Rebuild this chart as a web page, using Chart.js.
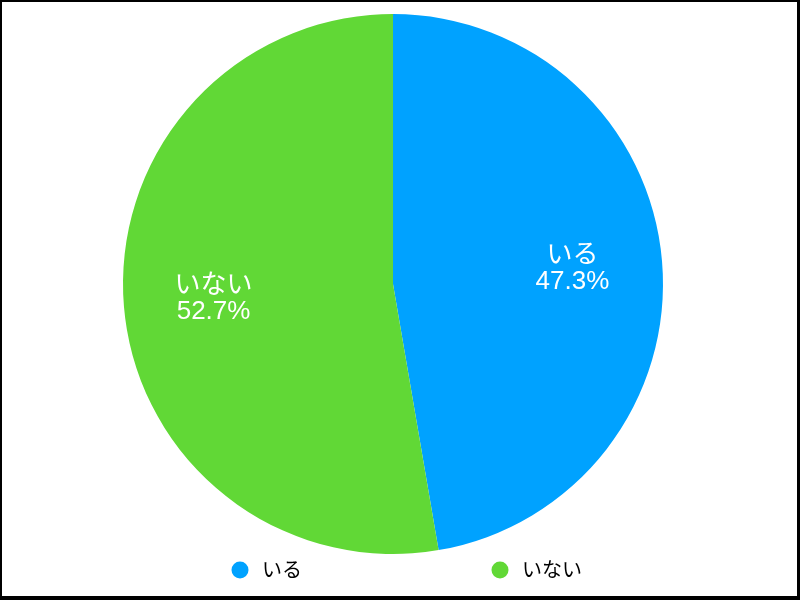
<!DOCTYPE html>
<html>
<head>
<meta charset="utf-8">
<script src="https://cdn.jsdelivr.net/npm/chart.js@4"></script>
<style>
  html, body { margin: 0; padding: 0; background: #fff; }
  #wrap { position: relative; width: 800px; height: 600px; }
  #frame { position: absolute; left: 0; top: 0; width: 800px; height: 600px; box-sizing: border-box;
           border-style: solid; border-color: #000; border-width: 2px 3px 4px 2px; pointer-events: none; }
  canvas { display: block; }
</style>
</head>
<body>
<div id="wrap">
  <canvas id="c" width="800" height="600"></canvas>
  <div id="frame"></div>
</div>
<script>
const categories = ["いる", "いない"];
const values = [47.3, 52.7];
const sliceColors = ["#00A2FF", "#61D836"];

const FONT = '"Liberation Sans", "Helvetica", "Noto Sans CJK JP", sans-serif';

const sliceLabels = {
  id: 'sliceLabels',
  afterDatasetsDraw(chart) {
    const ctx = chart.ctx;
    const meta = chart.getDatasetMeta(0);
    const data = chart.data.datasets[0].data;
    const total = data.reduce((a, b) => a + b, 0);
    ctx.save();
    ctx.fillStyle = '#fff';
    ctx.textAlign = 'center';
    ctx.textBaseline = 'middle';
    ctx.font = '26px ' + FONT;
    meta.data.forEach((arc, i) => {
      const p = arc.getProps(['x', 'y', 'startAngle', 'endAngle', 'outerRadius'], true);
      const mid = (p.startAngle + p.endAngle) / 2;
      const r = p.outerRadius * 0.667;
      const cx = p.x + Math.cos(mid) * r;
      const cy = p.y + Math.sin(mid) * r;
      const pct = (data[i] / total * 100).toFixed(1) + '%';
      ctx.fillText(chart.data.labels[i], cx, cy - 13);
      ctx.fillText(pct, cx, cy + 13);
    });
    ctx.restore();
  }
};

const bottomLegend = {
  id: 'bottomLegend',
  afterDraw(chart) {
    const ctx = chart.ctx;
    const ds = chart.data.datasets[0];
    const xs = [240, 500];
    const y = 570;
    ctx.save();
    ctx.textBaseline = 'middle';
    ctx.textAlign = 'left';
    ctx.font = '20px ' + FONT;
    chart.data.labels.forEach((lab, i) => {
      ctx.fillStyle = ds.backgroundColor[i];
      ctx.beginPath();
      ctx.arc(xs[i], y, 8.5, 0, Math.PI * 2);
      ctx.fill();
      ctx.fillStyle = '#000';
      ctx.fillText(lab, xs[i] + 22, y + 1);
    });
    ctx.restore();
  }
};

new Chart(document.getElementById('c'), {
  type: 'pie',
  data: {
    labels: categories,
    datasets: [{
      data: values,
      backgroundColor: sliceColors,
      borderWidth: 0
    }]
  },
  options: {
    responsive: false,
    animation: false,
    layout: { padding: { top: 14, bottom: 46, left: 0, right: 14 } },
    plugins: {
      legend: { display: false },
      tooltip: { enabled: false }
    }
  },
  plugins: [sliceLabels, bottomLegend]
});
</script>
</body>
</html>
